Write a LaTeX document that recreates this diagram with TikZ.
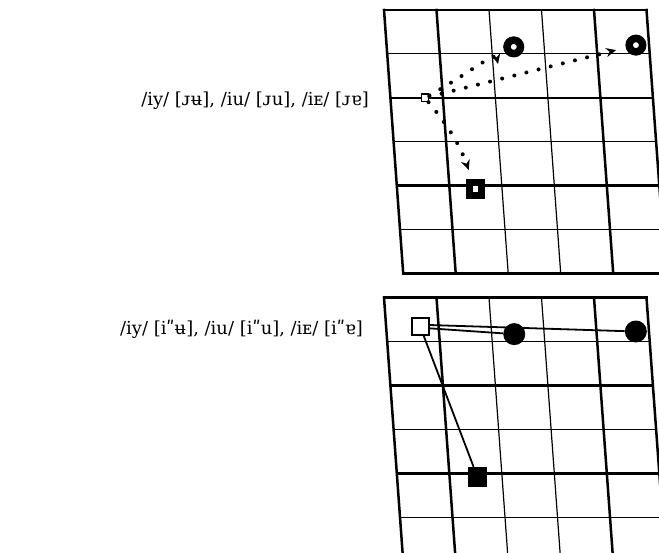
\documentclass[tikz,border=0pt]{standalone}
\usepackage{fontspec}
\setmainfont{DejaVu Serif}
\usetikzlibrary{arrows.meta}

\begin{document}
\begin{tikzpicture}[
        x=1bp, y=-1bp,
        chartframe/.style={x={(52.5bp,0bp)}, y={(3.2bp,-43.9bp)}},
        thickline/.style={line width=2.5bp, line cap=rect},
        thinline/.style={line width=1.2bp},
        ringmark/.style={circle, draw, line width=7.5bp, minimum size=13.5bp, inner sep=0pt},
        holebox/.style={rectangle, draw, fill=white, line width=7bp, minimum size=12.3bp, inner sep=0pt},
        smallbox/.style={rectangle, draw, fill=white, line width=1.3bp, minimum size=7.4bp, inner sep=0pt},
        openbox/.style={rectangle, draw, fill=white, line width=2bp, minimum size=16.7bp, inner sep=0pt},
        dotmark/.style={circle, fill, minimum size=22bp, inner sep=0pt},
        fullbox/.style={rectangle, fill, minimum size=19.5bp, inner sep=0pt},
        dotarrow/.style={line width=4bp, line cap=round, dash pattern=on 0bp off 12.5bp,
            -{Stealth[length=10bp,width=9bp]}},
        link/.style={line width=1.8bp},
        ipatext/.style={font=\fontsize{18}{21}\selectfont, anchor=east, inner sep=0pt}
    ]
    \useasboundingbox (0,0) rectangle (659,553);
    \clip (0,0) rectangle (659,553);

    % the two vowel charts
    \foreach \gy in {10,297.7} {
        \begin{scope}[shift={(384,\gy)}, chartframe]
            \foreach \i/\w in {0/thickline,1/thickline,2/thinline,3/thinline,4/thickline,5/thickline}
                \draw[\w] (\i,0) -- (\i,6);
            \foreach \j/\w in {0/thickline,1/thinline,2/thickline,3/thinline,4/thickline,5/thinline,6/thickline}
                \draw[\w] (0,\j) -- (5,\j);
        \end{scope}
    }

    % top chart
    \begin{scope}[shift={(384,10)}, chartframe]
        \node[smallbox] (sqA) at (0.66,2) {};
        \node[ringmark] (ringA1) at (2.42,0.84) {};
        \node[ringmark] (ringA2) at (4.75,0.8) {};
        \node[holebox] (boxA) at (1.49,4.08) {};
    \end{scope}
    \coordinate (tipA1) at (498,64);

    \draw[dotarrow] (sqA) .. controls +(45,-25) and +(-3,-13) .. (tipA1);
    \draw[dotarrow, shorten >=10bp] (sqA) -- (ringA2);
    \draw[dotarrow, shorten >=10bp] (sqA) to[bend left=10] (boxA);

    % bottom chart
    \begin{scope}[shift={(384,297.7)}, chartframe]
        \node[openbox] (sqB) at (0.65,0.66) {};
        \node[dotmark] (dotB1) at (2.43,0.83) {};
        \node[dotmark] (dotB2) at (4.75,0.77) {};
        \node[fullbox] (boxB) at (1.53,4.08) {};
    \end{scope}

    \draw[link] (sqB.10) -- (dotB2);
    \draw[link] (sqB.-10) -- (dotB1);
    \draw[link] (sqB) -- (boxB);

    % labels
    \node[ipatext] (labA) at (369,101) {/iy/ [ᴊʉ], /iu/ [ᴊu], /iᴇ/ [ᴊɐ]};
    \node[ipatext] (labB) at (363,329) {/iy/ [iʺʉ], /iu/ [iʺu], /iᴇ/ [iʺɐ]};
\end{tikzpicture}
\end{document}
